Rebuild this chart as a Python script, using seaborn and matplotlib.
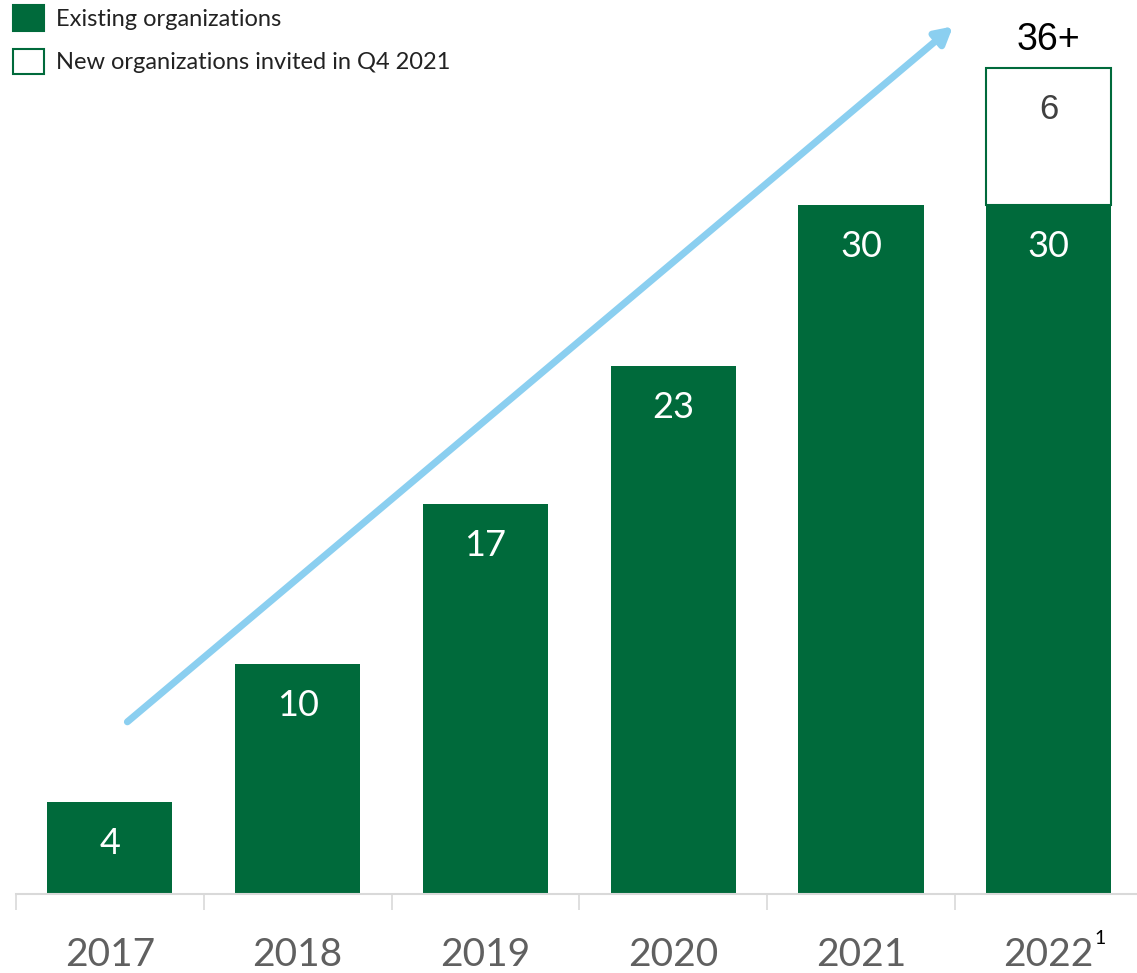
import matplotlib
matplotlib.use("Agg")
import matplotlib.pyplot as plt
from matplotlib.patches import Patch
import seaborn as sns
import pandas as pd

# Organizations per year
years = ["2017", "2018", "2019", "2020", "2021", "2022"]
existing = [4, 10, 17, 23, 30, 30]
new_invited = [0, 0, 0, 0, 0, 6]
total_label = "36+"

GREEN = "#006a3b"
ARROW_BLUE = "#8bcff0"
GRID_GRAY = "#d9d9d9"
TICK_GRAY = "#606060"

sns.set_style("white")
plt.rcParams["font.family"] = ["Lato", "DejaVu Sans"]

fig = plt.figure(figsize=(11.37, 9.73), dpi=100)
ax = fig.add_axes([16 / 1137, 79 / 973, 1121 / 1137, 894 / 973])

df = pd.DataFrame({"year": years, "existing": existing, "new": new_invited})

sns.barplot(data=df, x="year", y="existing", color=GREEN, saturation=1,
            width=0.666, ax=ax, linewidth=0)

# Newly invited organizations stacked on top of the existing ones
for i, (base, add) in enumerate(zip(existing, new_invited)):
    if add > 0:
        ax.bar(i, add, bottom=base, width=0.666, facecolor="white",
               edgecolor=GREEN, linewidth=1.5, zorder=3)
        ax.text(i, base + add - 1.8, str(add), ha="center", va="center",
                fontsize=25, color="#404040", family=["Liberation Sans"])
        ax.text(i, base + add + 1.2, total_label, ha="center", va="center",
                fontsize=27, color="black", family=["Liberation Sans"],
                clip_on=False)

# Value labels inside the green bars
for i, v in enumerate(existing):
    ax.text(i, v - 1.8, str(v), ha="center", va="center", fontsize=26,
            color="white", zorder=4)

# Growth arrow
ax.annotate("", xy=(4.49, 37.8), xytext=(0.093, 7.5),
            arrowprops=dict(arrowstyle="-|>,head_length=1.0,head_width=0.55",
                            color=ARROW_BLUE, lw=5, shrinkA=0, shrinkB=0),
            zorder=5)

ax.set_xlim(-0.5, 5.47)
ax.set_ylim(0, 38.95)
ax.set_xlabel("")
ax.set_ylabel("")
ax.set_yticks([])

for s in ["top", "right", "left"]:
    ax.spines[s].set_visible(False)
ax.spines["bottom"].set_color(GRID_GRAY)
ax.spines["bottom"].set_linewidth(1.5)

# Category separators as minor ticks
ax.set_xticks([i - 0.5 for i in range(len(years))], minor=True)
ax.tick_params(axis="x", which="minor", bottom=True, length=11.5, width=1.2,
               color=GRID_GRAY, direction="out")
ax.tick_params(axis="x", which="major", length=0, pad=31,
               labelsize=28, labelcolor=TICK_GRAY)

# Footnote marker on the last year
ax.annotate("1", xy=(5, 0), xytext=(33, -32), textcoords="offset points",
            ha="left", va="center", fontsize=14, color="black",
            annotation_clip=False)

# Legend
handles = [Patch(facecolor=GREEN, edgecolor=GREEN, linewidth=1.5,
                 label="Existing organizations"),
           Patch(facecolor="white", edgecolor=GREEN, linewidth=1.5,
                 label="New organizations invited in Q4 2021")]
fig.legend(handles=handles, loc="upper left",
           bbox_to_anchor=(13 / 1137, 1 - 5 / 973),
           frameon=False, fontsize=17, handlelength=1.31, handleheight=1.31,
           handletextpad=0.5, labelspacing=0.75, borderaxespad=0,
           borderpad=0, labelcolor="#222222")

fig.savefig("out.png", dpi=100)
